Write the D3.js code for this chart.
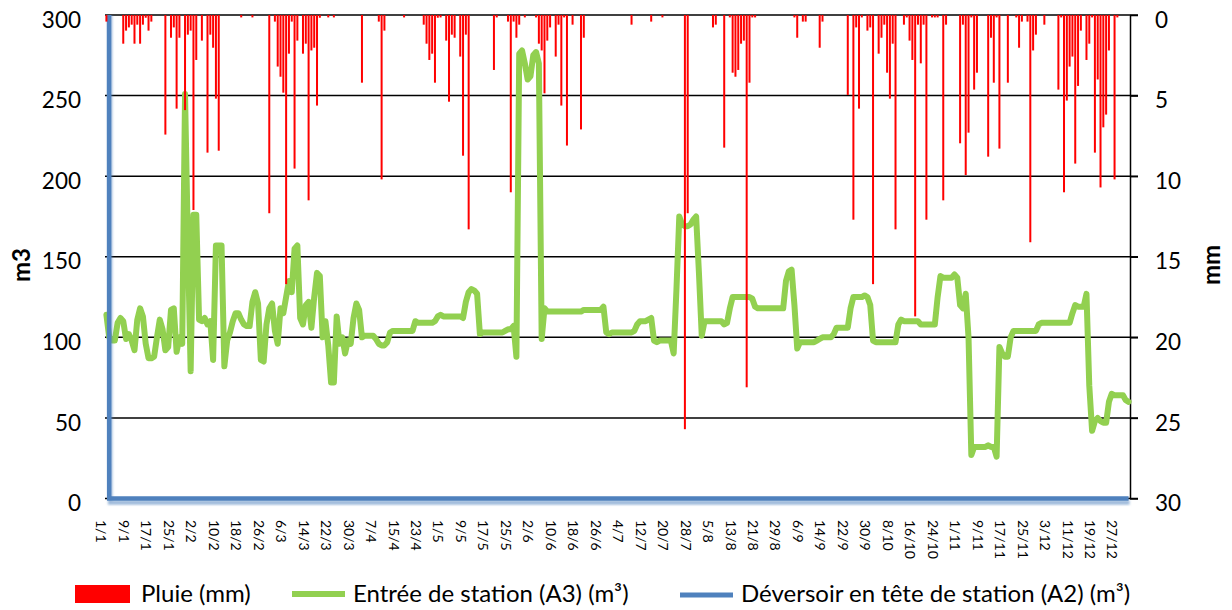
<!DOCTYPE html>
<html><head><meta charset="utf-8">
<script src="https://cdn.jsdelivr.net/npm/d3@7"></script>
<style>
body{margin:0;background:#fff}
svg{display:block}
text{font-family:Lato,"Noto Sans",sans-serif;fill:#000}
</style>
</head><body>
<svg id="chart" width="1232" height="610"></svg>
<script>
// ---------- DATA (daily, 1/1 .. 31/12) ----------
const tickLabels = ["1/1","9/1","17/1","25/1","2/2","10/2","18/2","26/2","6/3","14/3","22/3","30/3","7/4","15/4","23/4","1/5","9/5","17/5","25/5","2/6","10/6","18/6","26/6","4/7","12/7","20/7","28/7","5/8","13/8","21/8","29/8","6/9","14/9","22/9","30/9","8/10","16/10","24/10","1/11","9/11","17/11","25/11","3/12","11/12","19/12","27/12"];
const tickEvery = 8;

// Pluie (mm) - secondary axis, reversed
const pluie = [
0.41,0,0,0,0,0,1.78,0.97,0.77,0.6,
1.78,0.6,1.78,0.6,0.17,0.97,0.41,0,0,0,
0,7.42,0,1.41,0.77,5.81,1.41,0,5.9,1.22,
0.97,12.1,2.79,0,1.59,0,8.54,1.22,2.03,5.19,
8.42,0,0,0,0,0,0,0,0.15,0,
0,0,0.15,0,0,0,0,0,12.3,0,
0.41,3.2,3.83,4.82,16.7,2.4,0.41,9.53,1.59,0,
2.4,1.78,11.5,2.2,2.03,5.62,0.17,0,0,0.15,
0,0.15,0,0,0,0,0,0,0,0,
0,4.2,0,0,0,0,0,0.41,10.2,0.97,
0,0,0,0,0,0,0.15,0,0,0,
0,0,0,0.6,1.78,2.79,2.4,4.2,0.17,0.15,
0,1.59,5.38,1.22,1.41,0,2.58,8.73,1.22,13.3,
0,0,0,0,0,0,0,0,3.41,0.15,
0,0,0,0.41,11.0,0.41,1.41,0.6,0,0.15,
0,0,0,0.15,1.78,2.2,4.86,1.59,0.77,0,
2.58,0.6,5.62,0.15,8.1,0,0.6,0,0,7.1,
1.41,0,0,0,0,0,0,0,0,0,
0,0,0,0,0,0,0,0.6,0,0,
0,0,0,0,0.41,0,0,0,0.15,0,
0,0,0,0,0,0,25.7,12.3,0,0,
0,0,0,0,0,0,0.77,0.6,0,0,
8.23,0,0.15,3.58,3.83,3.41,1.78,1.59,23.1,4.2,
0.15,0.15,0,0,0,0,0,0,0,0,
0,0,0,0,0,0.15,1.41,0,0.41,0.41,
0,0,0,0,2.03,0.41,0,0,0,0,
0,0,0,0,4.96,0,12.7,0.77,5.81,0.15,
0,0.97,0.77,16.7,0,2.4,1.41,0.6,3.58,5.19,
1.78,13.3,0,0,0.6,0.15,1.59,2.79,18.7,0.6,
3.0,0.6,12.7,0,0.15,0.15,0.15,0,11.5,0.6,
0,0,0,0,7.96,0.6,9.93,7.3,0.15,4.63,
3.58,0,0,0,8.79,1.41,4.2,0.15,8.29,0,
0,4.2,0,0,0.15,2.03,0.41,0,0.41,14.1,
2.2,1.22,0,0,0.6,0,0,0,0,4.63,
0.15,11.0,5.31,3.2,2.58,9.22,4.4,0.97,0,2.79,
1.78,0.15,8.54,4.0,10.7,6.97,6.18,2.2,0,10.2,
0.15,0,0,0,0
];

// Entrée de station (A3) (m3) - primary axis
const entree = [
114,100,98,98,109,112,110,99,102,98,
92,111,118,113,96,87,87,88,100,111,
105,92,94,117,118,91,100,96,251,160,
79,176,176,111,110,112,108,110,86,157,
157,157,82,98,103,110,115,115,111,108,
107,107,122,128,121,86,85,108,118,121,
104,96,118,115,125,135,128,155,157,112,
108,120,122,106,125,140,138,100,110,95,
72,72,113,96,100,90,98,96,112,121,
117,100,101,101,101,101,99,96,95,95,
97,103,104,104,104,104,104,104,104,104,
110,109,109,109,109,109,109,110,113,114,
113,113,113,113,113,113,113,112,122,128,
130,129,127,102,103,103,103,103,103,103,
103,103,104,105,105,107,88,276,278,270,
260,262,275,277,270,99,118,116,116,116,
116,116,116,116,116,116,116,116,116,116,
117,117,117,117,117,117,117,119,103,102,
103,103,103,103,103,103,103,103,104,108,
110,110,110,111,112,98,97,98,98,98,
98,98,90,130,175,170,169,169,170,173,
175,140,101,110,110,110,110,110,110,110,
108,109,118,125,125,125,125,125,125,125,
124,119,118,118,118,118,118,118,118,118,
118,118,135,141,142,120,93,97,97,97,
97,97,97,98,99,100,100,100,100,102,
106,106,106,106,106,118,125,125,125,125,
126,125,120,98,97,97,97,97,97,97,
97,97,108,111,110,110,110,110,110,110,
108,108,108,108,108,108,125,138,137,137,
137,137,139,137,120,118,127,100,27,32,
32,32,32,32,33,32,32,26,94,90,
88,88,100,104,104,104,104,104,104,104,
104,104,108,109,109,109,109,109,109,109,
109,109,109,109,115,120,119,119,119,127,
70,42,48,50,48,47,47,60,65,64,
64,64,64,61,60
];

// Déversoir en tête de station (A2) (m3) - primary axis (first day off the scale)
const deversoir = [
5000,0,0,0,0,0,0,0,0,0, 0,0,0,0,0,0,0,0,0,0, 0,0,0,0,0,0,0,0,0,0, 0,0,0,0,0,0,0,0,0,0,
0,0,0,0,0,0,0,0,0,0, 0,0,0,0,0,0,0,0,0,0, 0,0,0,0,0,0,0,0,0,0, 0,0,0,0,0,0,0,0,0,0,
0,0,0,0,0,0,0,0,0,0, 0,0,0,0,0,0,0,0,0,0, 0,0,0,0,0,0,0,0,0,0, 0,0,0,0,0,0,0,0,0,0,
0,0,0,0,0,0,0,0,0,0, 0,0,0,0,0,0,0,0,0,0, 0,0,0,0,0,0,0,0,0,0, 0,0,0,0,0,0,0,0,0,0,
0,0,0,0,0,0,0,0,0,0, 0,0,0,0,0,0,0,0,0,0, 0,0,0,0,0,0,0,0,0,0, 0,0,0,0,0,0,0,0,0,0,
0,0,0,0,0,0,0,0,0,0, 0,0,0,0,0,0,0,0,0,0, 0,0,0,0,0,0,0,0,0,0, 0,0,0,0,0,0,0,0,0,0,
0,0,0,0,0,0,0,0,0,0, 0,0,0,0,0,0,0,0,0,0, 0,0,0,0,0,0,0,0,0,0, 0,0,0,0,0,0,0,0,0,0,
0,0,0,0,0,0,0,0,0,0, 0,0,0,0,0,0,0,0,0,0, 0,0,0,0,0,0,0,0,0,0, 0,0,0,0,0,0,0,0,0,0,
0,0,0,0,0,0,0,0,0,0, 0,0,0,0,0,0,0,0,0,0, 0,0,0,0,0,0,0,0,0,0, 0,0,0,0,0,0,0,0,0,0,
0,0,0,0,0
];

const seriesNames = ["Pluie (mm)", "Entrée de station (A3) (m³)", "Déversoir en tête de station (A2) (m³)"];
const leftTicks = [0,50,100,150,200,250,300];
const rightTicks = [0,5,10,15,20,25,30];

// ---------- LAYOUT ----------
const L = 105, R = 1130, T = 15, B = 498.5;
const svg = d3.select("#chart");
const days = d3.range(entree.length);
const x = d3.scaleBand().domain(days).range([L, R]).padding(0);
const cx = d => x(d) + x.bandwidth() / 2;
const yL = d3.scaleLinear().domain([0, 300]).range([B, T]);
const yR = d3.scaleLinear().domain([0, 30]).range([T, B]);

const defs = svg.append("defs");
defs.append("clipPath").attr("id", "plot").append("rect")
  .attr("x", L - 4).attr("y", T).attr("width", R - L + 8).attr("height", B - T + 8);
const f = defs.append("filter").attr("id", "shadow").attr("x", "-5%").attr("y", "-50%").attr("width", "110%").attr("height", "300%");
f.append("feDropShadow").attr("dx", 1).attr("dy", 4).attr("stdDeviation", 1)
  .attr("flood-color", "#4F81BD").attr("flood-opacity", 0.55);

// gridlines
svg.append("g").selectAll("line").data(leftTicks).join("line")
  .attr("x1", L).attr("x2", R + 8)
  .attr("y1", d => yL(d)).attr("y2", d => yL(d))
  .attr("stroke", "#000").attr("stroke-width", 1.5);

// right axis
const ra = svg.append("g").attr("transform", `translate(${R},0)`)
  .call(d3.axisRight(yR).tickValues(rightTicks).tickSize(8).tickSizeOuter(0).tickPadding(17));
ra.select(".domain").attr("stroke", "#000").attr("stroke-width", 1.5);
ra.selectAll(".tick line").attr("stroke", "#000").attr("stroke-width", 1.5);
ra.selectAll(".tick text").attr("font-size", 22.5).attr("font-family", "Lato").attr("fill", "#000")
  .attr("transform", "translate(0,5)");

// left axis
const la = svg.append("g").attr("transform", `translate(${L},0)`)
  .call(d3.axisLeft(yL).tickValues(leftTicks).tickSize(0).tickPadding(24));
la.select(".domain").remove();
la.selectAll(".tick text").attr("font-size", 22.5).attr("font-family", "Lato").attr("fill", "#000")
  .attr("transform", "translate(0,5)");

const plot = svg.append("g").attr("clip-path", "url(#plot)");

// green line
plot.append("path").datum(entree)
  .attr("fill", "none").attr("stroke", "#92D050").attr("stroke-width", 6)
  .attr("stroke-linejoin", "round").attr("stroke-linecap", "round")
  .attr("d", d3.line().x((d, i) => cx(i)).y(d => yL(d)));

// blue line
plot.append("path").datum(deversoir)
  .attr("fill", "none").attr("stroke", "#4F81BD").attr("stroke-width", 4.5)
  .attr("filter", "url(#shadow)")
  .attr("d", d3.line().x((d, i) => cx(i)).y(d => yL(d)));

// rain bars
plot.append("g").selectAll("rect").data(pluie).join("rect")
  .attr("x", (d, i) => cx(i) - 1).attr("width", 2)
  .attr("y", yR(0)).attr("height", d => yR(d) - yR(0))
  .attr("fill", "#FF0000");

// x labels
const tickDays = tickLabels.map((t, i) => i * tickEvery);
svg.append("g").selectAll("text").data(tickLabels).join("text")
  .attr("transform", (t, i) => `translate(${cx(tickDays[i]) - 5},520) rotate(90)`)
  .attr("dy", "0.35em")
  .attr("font-size", 14)
  .attr("text-anchor", "start")
  .text(t => t);

// axis titles
svg.append("text").attr("transform", "translate(30,265) rotate(-90)")
  .attr("text-anchor", "middle").attr("font-size", 24).attr("font-weight", "bold").text("m3");
svg.append("text").attr("transform", "translate(1220,265) rotate(-90)")
  .attr("text-anchor", "middle").attr("font-size", 24).attr("font-weight", "bold").text("mm");

// legend
const lg = svg.append("g").attr("font-size", 24);
lg.append("rect").attr("x", 75).attr("y", 585).attr("width", 55).attr("height", 18).attr("fill", "#FF0000");
lg.append("text").attr("x", 141).attr("y", 602).text(seriesNames[0]);
lg.append("line").attr("x1", 292).attr("x2", 345).attr("y1", 594).attr("y2", 594)
  .attr("stroke", "#92D050").attr("stroke-width", 6);
lg.append("text").attr("x", 353).attr("y", 602).text(seriesNames[1]);
lg.append("line").attr("x1", 680).attr("x2", 733).attr("y1", 595).attr("y2", 595)
  .attr("stroke", "#4F81BD").attr("stroke-width", 5);
lg.append("text").attr("x", 741).attr("y", 602).text(seriesNames[2]);
</script>
</body></html>
